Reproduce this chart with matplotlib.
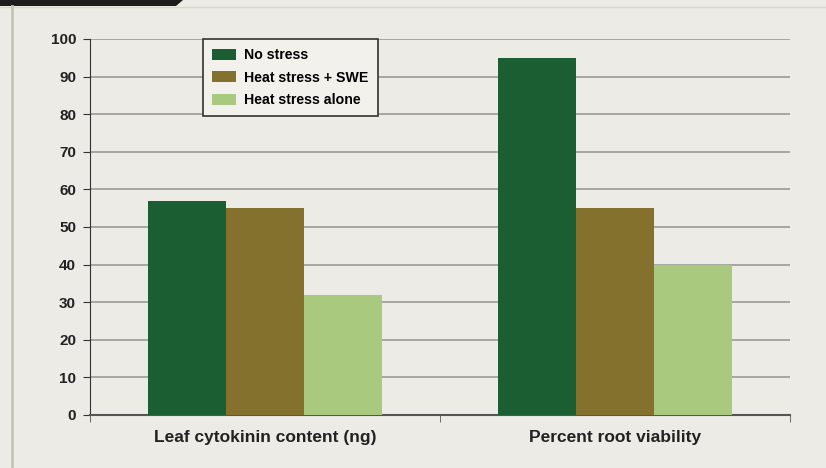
import matplotlib.pyplot as plt
import matplotlib.patches as mpatches
import numpy as np

categories = ['Leaf cytokinin content (ng)', 'Percent root viability']
series_names = ['No stress', 'Heat stress + SWE', 'Heat stress alone']
no_stress = [57, 95]
heat_swe = [55, 55]
heat_alone = [32, 40]
y_ticks = [0, 10, 20, 30, 40, 50, 60, 70, 80, 90, 100]

colors = ['#1a5e32', '#84712e', '#a8c97e']
bg = '#edebe5'

plt.rcParams['font.family'] = ['Liberation Sans', 'DejaVu Sans']

fig = plt.figure(figsize=(8.26, 4.68), dpi=100, facecolor=bg)

# frame decoration: dark tab top-left and thin left border
fig.patches.append(mpatches.Polygon([[0, 1], [183 / 826, 1], [176 / 826, 1 - 6 / 468], [0, 1 - 6 / 468]],
                                    closed=True, transform=fig.transFigure,
                                    facecolor='#1c1c1c', edgecolor='none'))
fig.add_artist(plt.Line2D([0, 1], [1 - 6.5 / 468] * 2, transform=fig.transFigure,
                          color='#d8d8cc', linewidth=1))
fig.add_artist(plt.Line2D([11.5 / 826] * 2, [0, 1 - 6 / 468], transform=fig.transFigure,
                          color='#c3c6ae', linewidth=2))

ax = fig.add_axes([90 / 826, 53 / 468, 700 / 826, 376 / 468])
ax.set_facecolor(bg)

x = np.arange(len(categories))
w = 0.223
for i, (vals, name) in enumerate(zip([no_stress, heat_swe, heat_alone], series_names)):
    ax.bar(x + (i - 1) * w, vals, width=w, color=colors[i], label=name, zorder=3)

ax.set_xlim(-0.5, 1.5)
ax.set_ylim(0, 100)
ax.set_yticks(y_ticks)
ax.yaxis.grid(True, color='#9a9a96', linewidth=1.2, zorder=1)
ax.set_axisbelow(True)

for s in ['top', 'right']:
    ax.spines[s].set_visible(False)
ax.spines['left'].set_color('#333333')
ax.spines['bottom'].set_color('#555555')
ax.spines['bottom'].set_linewidth(1.5)

ax.set_xticks(x)
ax.set_xticklabels(categories, fontsize=12.5, fontweight='bold', color='#222222')
ax.tick_params(axis='x', length=0, pad=11)
ax.set_xticks([-0.5, 0.5, 1.5], minor=True)
ax.tick_params(axis='x', which='minor', length=5, direction='out', color='#555555')
ax.tick_params(axis='y', length=5, direction='out', color='#333333', labelsize=11,
               labelcolor='#222222', pad=5)
for lab in ax.get_yticklabels():
    lab.set_fontweight('bold')

leg = ax.legend(loc='upper left', bbox_to_anchor=(113 / 700, 1.0), borderaxespad=0,
                frameon=True, fancybox=False, edgecolor='#333333', facecolor='#f2f1ec',
                framealpha=1, prop={'weight': 'bold', 'size': 10.2}, handlelength=1.7,
                handleheight=0.8, handletextpad=0.55, borderpad=0.65, labelspacing=0.6)
leg.get_frame().set_linewidth(1.2)

fig.savefig('out.png', dpi=100, facecolor=bg)
